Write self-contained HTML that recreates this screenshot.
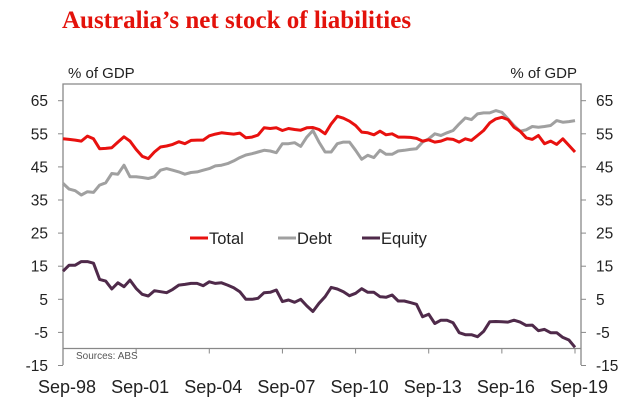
<!DOCTYPE html>
<html><head><meta charset="utf-8"><style>
body{margin:0;background:#fff;}
svg text{font-family:"Liberation Sans",Arial,sans-serif;}
</style></head><body>
<svg id="chart" width="643" height="409" xmlns="http://www.w3.org/2000/svg">
<text x="62" y="28" font-weight="bold" font-size="25" fill="#e3120b" style="font-family:'Liberation Serif',serif">Australia’s net stock of liabilities</text>
<text x="68" y="78" font-size="15" fill="#222">% of GDP</text>
<text x="577" y="78" font-size="15" fill="#222" text-anchor="end">% of GDP</text>
<g id="axes"></g>
<g id="series"></g>
<text x="76" y="359" font-size="10" fill="#555">Sources: ABS</text>
<g>
<line x1="190" y1="238" x2="208" y2="238" stroke="#e8110f" stroke-width="3"/>
<text x="209" y="244" font-size="16.5" fill="#222">Total</text>
<line x1="278" y1="238" x2="296" y2="238" stroke="#a0a0a0" stroke-width="3"/>
<text x="297" y="244" font-size="16.5" fill="#222">Debt</text>
<line x1="362" y1="238" x2="380" y2="238" stroke="#4f2a4a" stroke-width="3"/>
<text x="381" y="244" font-size="16.5" fill="#222">Equity</text>
</g>
</svg>
<script>
const yTicks=[65,55,45,35,25,15,5,-5,-15];
const xLabels=["Sep-98","Sep-01","Sep-04","Sep-07","Sep-10","Sep-13","Sep-16","Sep-19"];
const total=[53.5,53.3,53.1,52.8,54.3,53.5,50.5,50.6,50.8,52.5,54.1,52.8,50.3,48.2,47.5,49.5,51,51.3,51.8,52.6,52,53,53.1,53.1,54.4,54.9,55.3,55.1,54.9,55.2,53.8,54,54.6,56.8,56.6,56.8,56,56.6,56.3,56.1,56.8,56.9,56.3,55,58,60.3,59.7,58.8,57.5,55.5,55.3,54.7,55.8,54.7,55,54,54,53.9,53.6,52.8,53.2,52.5,52.8,53.5,53.3,52.5,53.5,53,54.5,56,58.3,59.5,60,59.3,57,55.8,53.8,53.3,54.5,52,52.8,51.8,53.5,51.5,49.5];
const debt=[40,38.3,37.8,36.5,37.5,37.3,39.5,40.2,43,42.8,45.5,42,42,41.8,41.5,42,44,44.5,44,43.5,42.8,43.3,43.5,44,44.5,45.3,45.5,46,46.8,47.8,48.6,49,49.5,50,49.8,49.3,52,52,52.3,51.2,54,56,52.5,49.5,49.5,52,52.5,52.5,50,47.3,48.5,47.8,50,48.8,48.8,49.8,50,50.3,50.5,52.5,53.5,55,54.5,55.3,56,58,59.8,59.3,61,61.3,61.3,62,61.5,59.5,57.5,55.8,56.2,57.2,57,57.2,57.5,59,58.5,58.7,59];
const equity=[13.5,15.3,15.3,16.4,16.4,15.9,11,10.5,8.1,10,8.8,10.8,8.3,6.5,6,7.6,7.3,7,8,9.3,9.5,9.8,9.8,9.1,10.3,9.8,10,9.3,8.5,7.3,5,5,5.3,7,7.1,7.8,4.3,4.8,4.1,5,3,1.3,3.8,5.8,8.6,8.1,7.3,6.1,6.8,8.2,7.1,7.1,5.8,5.6,6.3,4.5,4.5,4,3.5,-0.3,0.5,-2.3,-1.3,-1.3,-2.1,-5.1,-5.7,-5.7,-6.3,-4.7,-1.8,-1.7,-1.8,-1.9,-1.3,-1.9,-2.9,-2.8,-4.5,-4.1,-5.1,-5.1,-6.5,-7.3,-9.5];
const L=63,R=581,T=84,B=365,AX=348.5;
const NQ=84;
function X(i){return L+i*(575-L)/NQ;}
function Y(v){return 100.7+(65-v)*3.31;}
const NS="http://www.w3.org/2000/svg";
function mk(tag,attrs,parent){const e=document.createElementNS(NS,tag);for(const k in attrs)e.setAttribute(k,attrs[k]);parent.appendChild(e);return e;}
const ax=document.getElementById('axes');
const frame=mk('path',{d:`M${L},${B}V${T}H${R}V${B}M${L},${AX}H${R}`,fill:'none',stroke:'#888','stroke-width':1.3},ax);


yTicks.forEach(v=>{
  const y=Y(v);
  mk('line',{x1:L-5,x2:L,y1:y,y2:y,stroke:'#888'},ax);
  mk('line',{x1:R,x2:R+5,y1:y,y2:y,stroke:'#888'},ax);
  const t1=mk('text',{x:48,y:y+5.5,'font-size':15.5,fill:'#222','text-anchor':'end'},ax);t1.textContent=v;
  
  
  const t2=mk('text',{x:596,y:y+5.5,'font-size':15.5,fill:'#222'},ax);t2.textContent=v;
  
  
});
xLabels.forEach((s,k)=>{
  const x=X(k*12);
  mk('line',{x1:x,x2:x,y1:AX,y2:AX+5,stroke:'#888'},ax);
  const t=mk('text',{x:x+4,y:393,'font-size':18,fill:'#222','text-anchor':'middle'},ax);t.textContent=s;
  
  
});
const sg=document.getElementById('series');
[[debt,'#a0a0a0','debt-line'],[total,'#e8110f','total-line'],[equity,'#4f2a4a','equity-line']].forEach(([d,c,n])=>{
  const p=mk('polyline',{points:d.map((v,i)=>X(i).toFixed(1)+','+Y(v).toFixed(1)).join(' '),fill:'none',stroke:c,'stroke-width':3,'stroke-linejoin':'round'},sg);
  
  
});
</script>
</body></html>
